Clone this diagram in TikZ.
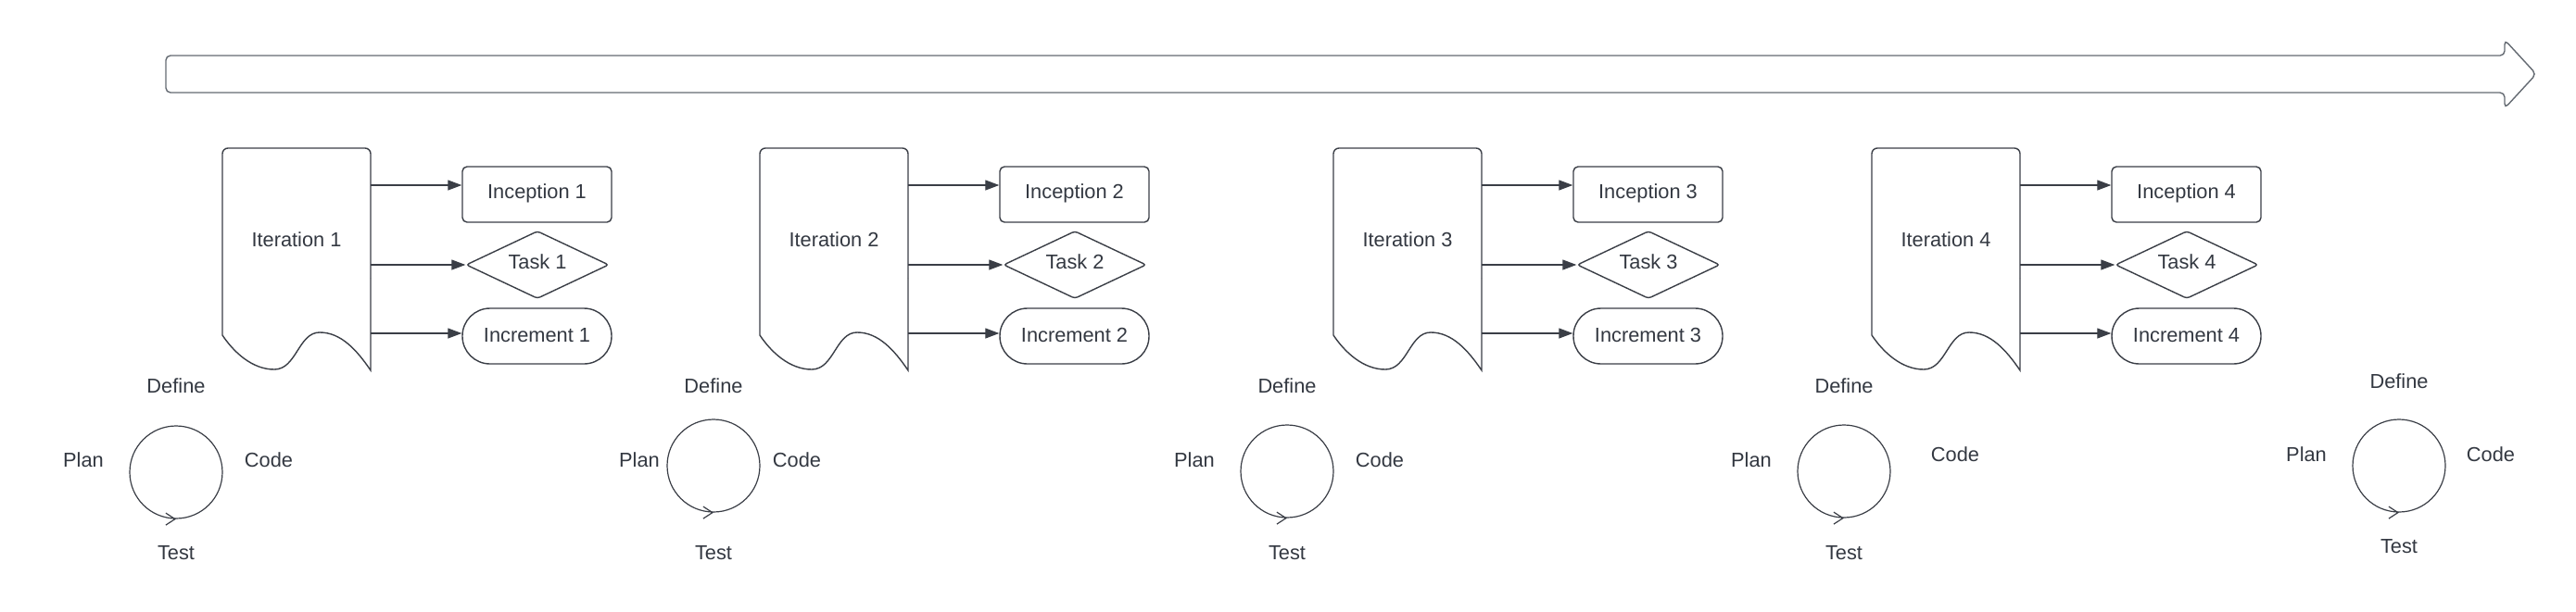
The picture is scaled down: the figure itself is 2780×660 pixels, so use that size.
\documentclass[tikz,border=0pt]{standalone}
\usepackage{fontspec}
\setmainfont{Liberation Sans}
\usetikzlibrary{arrows.meta,shapes.geometric,calc}
\definecolor{ln}{RGB}{58,62,70}
\definecolor{tx}{RGB}{51,56,65}
\definecolor{big}{RGB}{100,106,114}
\begin{document}
\begin{tikzpicture}[x=0.5pt,y=-0.5pt,
  font=\fontsize{10.9pt}{13pt}\selectfont, text=tx,
  lbl/.style={inner sep=0pt, text=tx, text height=7.8pt, text depth=0pt},
  box/.style={draw=ln, line width=0.7pt, rounded corners=2.5pt, minimum width=80.5pt, minimum height=30pt, inner sep=0pt, text height=7.8pt, text depth=3pt},
  dia/.style={draw=ln, line width=0.7pt, diamond, aspect=2.1, minimum width=77pt, minimum height=36.5pt, inner sep=0pt, rounded corners=1.5pt, text height=7.8pt, text depth=3pt},
  pill/.style={draw=ln, line width=0.7pt, rounded corners=14.9pt, minimum width=80.5pt, minimum height=30pt, inner sep=0pt, text height=7.8pt, text depth=1pt},
  arr/.style={draw=ln, line width=0.6pt, -{Triangle[length=7.5pt,width=5.5pt]}},
  cyc/.style={draw=ln, line width=0.6pt, circle, minimum size=50pt, inner sep=0pt},
  doc/.style={draw=ln, line width=0.7pt},
  ghost/.style={minimum width=80pt, minimum height=120pt, inner sep=0pt}]
\useasboundingbox (0,0) rectangle (2780,660);

% timeline arrow
\draw[draw=big, line width=0.7pt, rounded corners=2.5pt]
  (179,60) -- (2703,60) -- (2703,43) -- (2737,80) -- (2703,117) -- (2703,100) -- (179,100) -- cycle;

% iterations
\foreach \i/\x in {1/240,2/820,3/1439,4/2020}{
  \node[ghost] (it\i) at (\x+80,280) {};
  \draw[doc, rounded corners=3pt] (\x,362) -- (\x,160) -- (\x+160,160) -- (\x+160,300);
  \draw[doc] (\x+160,300) -- (\x+160,400)
    .. controls (\x+145,378) and (\x+128,359) .. (\x+105,359)
    .. controls (\x+82,359) and (\x+80,399) .. (\x+56,399)
    .. controls (\x+32,399) and (\x+12,380) .. (\x,362);
  \node[lbl] (itl\i) at (\x+80,259) {Iteration \i};
  \node[box] (inc\i) at (\x+339.5,210) {Inception \i};
  \node[dia] (task\i) at (\x+340,286) {Task \i};
  \node[pill] (incr\i) at (\x+339.5,363) {Increment \i};
  \coordinate (a\i) at ([yshift=5pt]inc\i.west);
  \coordinate (c\i) at ([yshift=1.5pt]incr\i.west);
  \draw[arr] (a\i -| it\i.east) -- (a\i);
  \draw[arr] (task\i.west -| it\i.east) -- (task\i.west);
  \draw[arr] (c\i -| it\i.east) -- (c\i);
}

% cycles
\foreach \n/\cx/\cy/\dy/\px/\py/\qx/\qy/\ty in {
  1/190/510/417/90/497/290/497/597,
  2/770/503/417/690/497/860/497/597,
  3/1389/509/417/1289/497/1489/497/597,
  4/1990/509/417/1890/497/2110/491/597,
  5/2589/503/412/2489/491/2688/491/590}{
  \node[cyc] (cy\n) at (\cx,\cy) {};
  \draw[draw=ln, line width=0.6pt, -{Straight Barb[length=5pt,width=6.5pt]}]
    ([xshift=-1.5pt]cy\n.south) -- (cy\n.south);
  \node[lbl] (def\n) at (\cx,\dy) {Define};
  \node[lbl] (plan\n) at (\px,\py) {Plan};
  \node[lbl] (code\n) at (\qx,\qy) {Code};
  \node[lbl] (test\n) at (\cx,\ty) {Test};
}
\end{tikzpicture}
\end{document}
